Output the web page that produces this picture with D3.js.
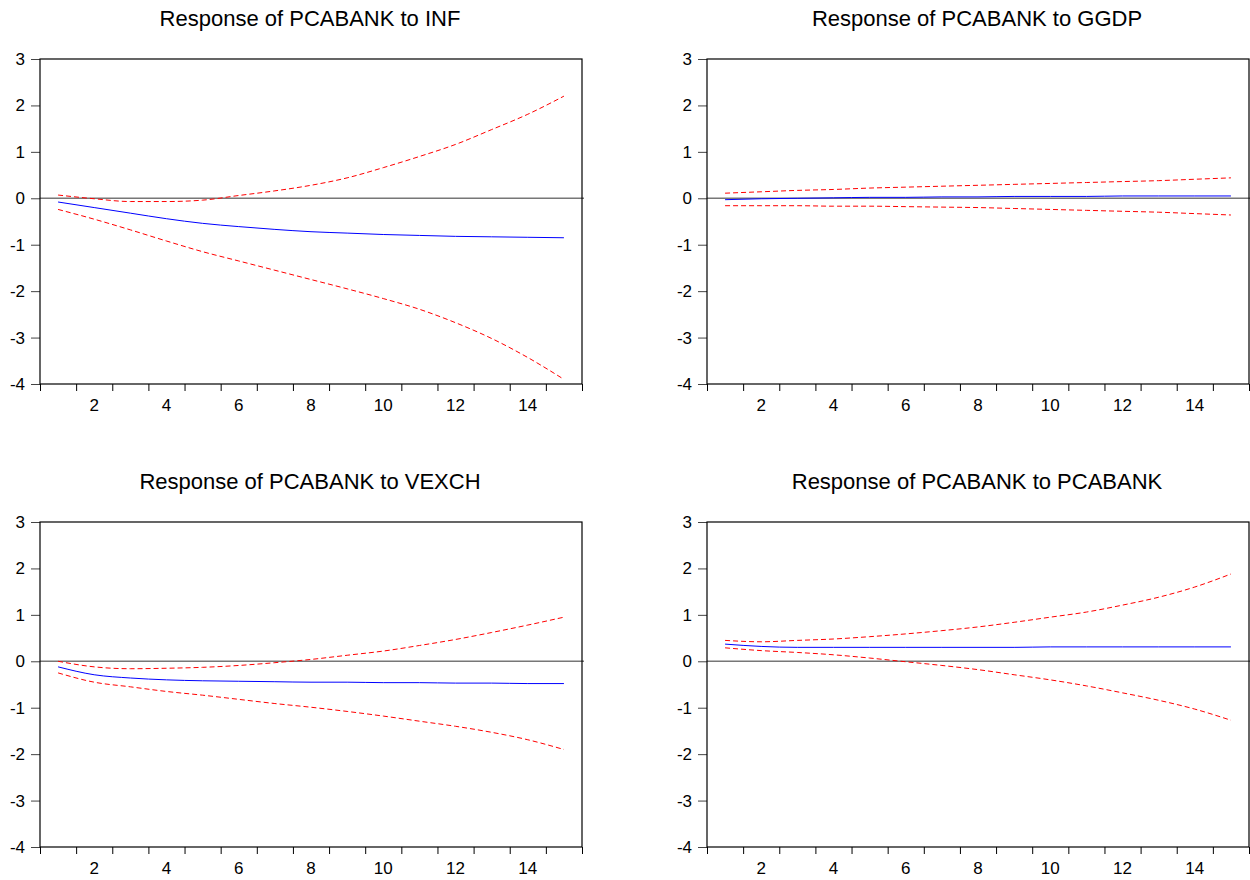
<!doctype html>
<html>
<head>
<meta charset="UTF-8">
<title>Impulse responses of PCABANK</title>
<script src="https://d3js.org/d3.v7.min.js"></script>
<style>
  body { margin: 0; background: #fff; }
  svg text { font-family: "Liberation Sans", Arial, sans-serif; fill: #000; }
</style>
</head>
<body>
<svg id="chart" width="1250" height="880"></svg>
<script>
// periods and y tick values
var periods = [1, 2, 3, 4, 5, 6, 7, 8, 9, 10, 11, 12, 13, 14, 15];
var xLabels = [2, 4, 6, 8, 10, 12, 14];
var yTicks = [-4, -3, -2, -1, 0, 1, 2, 3];

// panel titles
var titles = ["Response of PCABANK to INF", "Response of PCABANK to GGDP",
              "Response of PCABANK to VEXCH", "Response of PCABANK to PCABANK"];

// response to INF
var infResp  = [-0.08, -0.20, -0.32, -0.44, -0.54, -0.61, -0.67, -0.72, -0.75, -0.78, -0.80, -0.82, -0.83, -0.84, -0.85];
var infLower = [-0.24, -0.45, -0.68, -0.92, -1.15, -1.35, -1.55, -1.75, -1.95, -2.16, -2.39, -2.68, -3.02, -3.43, -3.90];
var infUpper = [0.07, -0.01, -0.07, -0.07, -0.04, 0.06, 0.16, 0.28, 0.44, 0.66, 0.90, 1.16, 1.48, 1.81, 2.20];

// response to GGDP
var ggdpResp  = [-0.03, -0.01, 0.00, 0.01, 0.02, 0.02, 0.03, 0.03, 0.04, 0.04, 0.04, 0.05, 0.05, 0.05, 0.05];
var ggdpLower = [-0.16, -0.16, -0.16, -0.17, -0.17, -0.18, -0.19, -0.20, -0.22, -0.24, -0.26, -0.28, -0.30, -0.33, -0.36];
var ggdpUpper = [0.11, 0.14, 0.17, 0.19, 0.22, 0.24, 0.26, 0.28, 0.30, 0.32, 0.34, 0.36, 0.38, 0.41, 0.44];

// response to VEXCH
var vexResp  = [-0.12, -0.29, -0.36, -0.40, -0.42, -0.43, -0.44, -0.45, -0.45, -0.46, -0.46, -0.47, -0.47, -0.48, -0.48];
var vexLower = [-0.25, -0.45, -0.55, -0.65, -0.73, -0.82, -0.91, -0.99, -1.08, -1.18, -1.29, -1.40, -1.53, -1.69, -1.90];
var vexUpper = [0.00, -0.12, -0.16, -0.15, -0.13, -0.09, -0.03, 0.04, 0.13, 0.22, 0.34, 0.47, 0.62, 0.78, 0.95];

// response to PCABANK
var pcaResp  = [0.37, 0.32, 0.30, 0.30, 0.30, 0.30, 0.30, 0.30, 0.30, 0.31, 0.31, 0.31, 0.31, 0.31, 0.31];
var pcaLower = [0.29, 0.23, 0.19, 0.14, 0.07, -0.01, -0.09, -0.18, -0.29, -0.40, -0.53, -0.68, -0.84, -1.03, -1.27];
var pcaUpper = [0.45, 0.42, 0.45, 0.48, 0.53, 0.59, 0.66, 0.74, 0.84, 0.95, 1.06, 1.21, 1.38, 1.60, 1.88];

var panels = [
  { title: titles[0], resp: infResp,  lower: infLower,  upper: infUpper,  left: 40,  top: 59 },
  { title: titles[1], resp: ggdpResp, lower: ggdpLower, upper: ggdpUpper, left: 707, top: 59 },
  { title: titles[2], resp: vexResp,  lower: vexLower,  upper: vexUpper,  left: 40,  top: 522 },
  { title: titles[3], resp: pcaResp,  lower: pcaLower,  upper: pcaUpper,  left: 707, top: 522 }
];

var w = 542, h = 325;
var svg = d3.select("#chart");

var x = d3.scaleLinear().domain([0.5, 15.5]).range([0, w]);
var y = d3.scaleLinear().domain([-4, 3]).range([h, 0]);
var boundaries = d3.range(0.5, 16, 1);

panels.forEach(function (p) {
  var g = svg.append("g").attr("transform", "translate(" + p.left + "," + p.top + ")");

  g.append("text")
    .attr("x", w / 2 - 1)
    .attr("y", -33)
    .attr("text-anchor", "middle")
    .attr("font-size", 22)
    .attr("fill", "#111")
    .text(p.title);

  // y axis ticks + labels
  var yAxis = d3.axisLeft(y).tickValues(yTicks).tickSize(9).tickPadding(6)
    .tickFormat(function (d) { return String(d); });
  var ya = g.append("g").call(yAxis);
  ya.attr("font-size", null).attr("font-family", null);
  ya.select(".domain").remove();
  ya.selectAll(".tick line").attr("stroke", "#444");
  ya.selectAll(".tick text").style("font-size", "17px").attr("fill", "#000");

  // x axis: ticks at period boundaries, labels on even periods
  var xAxis = d3.axisBottom(x).tickValues(boundaries).tickSize(7).tickFormat("");
  var xa = g.append("g").attr("transform", "translate(0," + h + ")").call(xAxis);
  xa.select(".domain").remove();
  xa.selectAll(".tick line").attr("stroke", "#000");
  g.selectAll(".xlab").data(xLabels).enter().append("text")
    .attr("class", "xlab")
    .attr("x", function (d) { return x(d); })
    .attr("y", h + 27)
    .attr("text-anchor", "middle")
    .style("font-size", "17px")
    .text(function (d) { return d; });

  // zero line
  g.append("line")
    .attr("x1", 0).attr("x2", w + 2)
    .attr("y1", y(0)).attr("y2", y(0))
    .attr("stroke", "#777").attr("stroke-width", 1.5);

  var line = d3.line()
    .x(function (d, i) { return x(periods[i]); })
    .y(function (d) { return y(d); })
    .curve(d3.curveMonotoneX);

  g.append("path").datum(p.upper).attr("d", line)
    .attr("fill", "none").attr("stroke", "#ff0000").attr("stroke-width", 1).attr("stroke-dasharray", "5,3");
  g.append("path").datum(p.lower).attr("d", line)
    .attr("fill", "none").attr("stroke", "#ff0000").attr("stroke-width", 1).attr("stroke-dasharray", "5,3");
  g.append("path").datum(p.resp).attr("d", line)
    .attr("fill", "none").attr("stroke", "#0000ff").attr("stroke-width", 1);

  // frame
  g.append("rect")
    .attr("x", 0).attr("y", 0).attr("width", w).attr("height", h)
    .attr("fill", "none").attr("stroke", "#000").attr("stroke-width", 1.2);
});
</script>
</body>
</html>
